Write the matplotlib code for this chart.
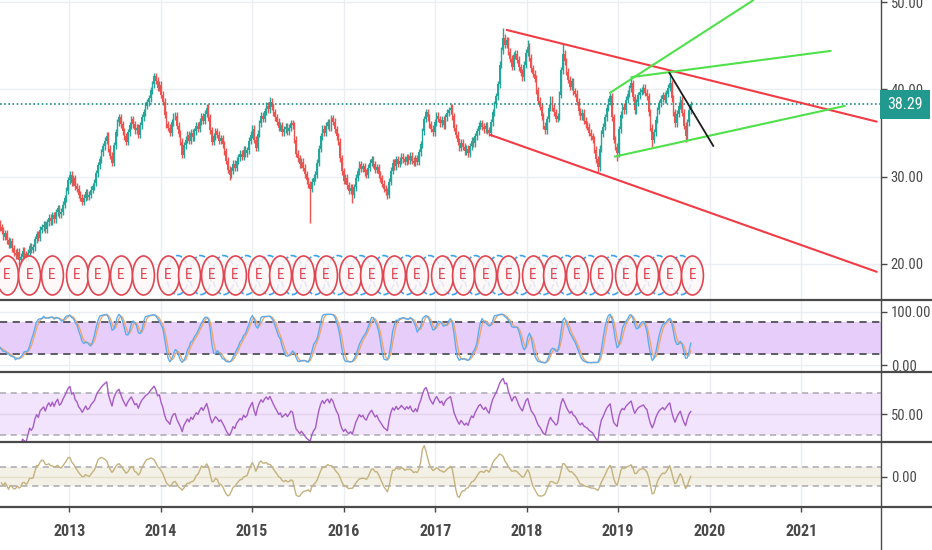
import numpy as np
import pandas as pd
import matplotlib
matplotlib.use('Agg')
import matplotlib.pyplot as plt
import matplotlib.dates as mdates
from matplotlib.path import Path
from matplotlib.lines import Line2D
from matplotlib.ticker import FormatStrFormatter
from matplotlib.transforms import blended_transform_factory

plt.rcParams['font.family'] = ['Roboto Condensed', 'Barlow Condensed', 'DejaVu Sans']

# weekly closes (first bar 2012-03-30)
first_date = '2012-03-30'
first_open = 24.6
closes = [
    24.2, 23.8, 23.1, 23.5, 22.7, 22.2, 22.6, 21.8, 21.3, 21.0,
    21.4, 20.4, 20.8, 21.5, 21.1, 20.7, 21.3, 22.0, 21.6, 21.9,
    22.8, 23.4, 23.0, 23.9, 24.2, 24.5, 24.0, 24.8, 25.3, 24.9,
    25.6, 25.1, 25.9, 26.4, 25.7, 26.0, 26.8, 27.5, 28.4, 29.6,
    30.2, 29.3, 29.8, 28.9, 28.6, 27.9, 27.6, 27.1, 27.6, 28.2,
    27.7, 27.9, 28.5, 28.9, 29.3, 30.4, 31.3, 32.0, 32.8, 33.5,
    34.1, 34.7, 33.2, 32.4, 31.6, 33.6, 35.1, 36.2, 36.8, 36.0,
    35.2, 34.6, 34.0, 35.1, 35.9, 36.6, 36.0, 35.3, 35.6, 34.8,
    35.9, 36.8, 37.4, 38.1, 38.5, 39.0, 39.9, 40.6, 41.5, 41.0,
    40.2, 40.5, 39.4, 38.6, 37.1, 36.0, 35.6, 35.0, 36.2, 36.9,
    37.0, 35.8, 34.9, 34.0, 32.5, 33.6, 34.2, 34.8, 34.1, 35.0,
    34.5, 35.2, 35.8, 35.5, 36.3, 36.9, 36.4, 37.2, 37.9, 36.8,
    35.3, 34.0, 34.6, 35.2, 34.8, 34.1, 34.4, 33.7, 32.9, 31.8,
    30.8, 30.2, 30.7, 31.5, 31.0, 31.8, 32.2, 32.6, 32.3, 33.1,
    32.7, 33.0, 34.1, 34.8, 35.5, 34.2, 33.3, 34.9, 36.1, 37.0,
    36.6, 37.5, 38.1, 37.7, 38.6, 38.0, 37.4, 36.8, 36.3, 35.6,
    35.9, 35.1, 35.4, 35.7, 35.2, 35.6, 36.1, 35.9, 34.2, 32.6,
    32.1, 31.4, 31.7, 31.0, 30.3, 29.6, 29.1, 28.6, 29.4, 29.9,
    30.2, 31.6, 33.2, 34.6, 35.5, 35.0, 35.8, 36.2, 35.6, 36.7,
    36.3, 35.4, 34.6, 34.0, 32.1, 30.6, 29.5, 29.9, 29.0, 28.4,
    28.7, 27.9, 28.8, 29.9, 30.6, 31.4, 30.9, 31.2, 30.5, 30.2,
    31.0, 31.6, 32.0, 31.4, 30.8, 31.1, 30.3, 29.8, 29.2, 28.6,
    28.3, 27.9, 29.4, 30.7, 31.6, 31.2, 32.0, 31.5, 31.8, 32.3,
    32.0, 31.7, 32.2, 31.9, 32.4, 31.8, 31.6, 32.1, 31.7, 32.8,
    33.7, 35.2, 36.6, 37.4, 36.8, 36.0, 35.5, 35.1, 36.2, 37.0,
    36.6, 36.1, 36.5, 35.9, 36.8, 37.3, 37.6, 37.9, 36.9, 35.6,
    34.8, 34.0, 33.3, 33.9, 33.4, 32.9, 33.2, 32.7, 33.5, 34.1,
    33.8, 34.6, 35.2, 35.8, 36.1, 35.7, 35.4, 35.8, 35.3, 35.0,
    36.2, 37.4, 38.3, 39.2, 40.6, 42.8, 44.5, 45.9, 45.1, 45.6,
    44.3, 43.5, 42.6, 43.9, 44.1, 43.4, 42.5, 41.9, 41.4, 42.8,
    44.2, 44.9, 43.6, 42.4, 41.8, 41.2, 39.9, 38.7, 38.0, 36.9,
    35.8, 35.3, 36.6, 37.9, 38.8, 37.9, 37.4, 36.6, 36.9, 39.4,
    42.2, 44.1, 43.2, 42.0, 41.1, 40.3, 40.9, 39.8, 39.5, 38.6,
    37.5, 36.9, 37.3, 36.4, 36.0, 35.7, 35.0, 34.6, 34.2, 33.1,
    32.0, 31.1, 33.2, 34.9, 35.7, 36.8, 37.9, 38.6, 39.2, 36.8,
    34.2, 33.4, 32.7, 35.4, 37.1, 38.0, 37.6, 38.8, 39.5, 40.1,
    40.7, 39.1, 37.6, 38.5, 39.3, 39.7, 39.9, 40.2, 39.6, 39.2,
    37.4, 35.6, 34.2, 35.1, 36.5, 37.6, 38.4, 38.9, 39.3, 38.8,
    39.5, 40.2, 40.7, 39.0, 37.4, 36.1, 37.2, 38.1, 38.8, 37.3,
    35.8, 34.6, 36.2, 37.6, 38.29,
]
wick = 0.4
high_spikes = {88: 41.9, 154: 39.1, 287: 47.0, 301: 45.6, 321: 45.2, 360: 41.5, 382: 42.2}
low_spikes = {11: 19.9, 131: 29.6, 177: 24.7, 201: 27.0, 221: 27.4, 341: 30.5, 352: 31.8, 372: 33.4, 391: 34.0}

earnings_dates = [
    '2012-04-26', '2012-07-26', '2012-10-25',
    '2013-01-31', '2013-04-25', '2013-07-25', '2013-10-24',
    '2014-01-30', '2014-04-24', '2014-07-24', '2014-10-23',
    '2015-01-29', '2015-04-23', '2015-07-23', '2015-10-22',
    '2016-01-28', '2016-04-21', '2016-07-21', '2016-10-20',
    '2017-01-26', '2017-04-20', '2017-07-20', '2017-10-19',
    '2018-01-25', '2018-04-19', '2018-07-19', '2018-10-25',
    '2019-01-31', '2019-04-25', '2019-07-25', '2019-10-24',
]
dividend_dates = [
    '2014-03-10', '2014-06-10', '2014-09-10', '2014-12-10',
    '2015-03-10', '2015-06-10', '2015-09-10', '2015-12-10',
    '2016-03-10', '2016-06-10', '2016-09-10', '2016-12-10',
    '2017-03-10', '2017-06-10', '2017-09-10', '2017-12-10',
    '2018-03-10', '2018-06-10', '2018-09-10', '2018-12-10',
    '2019-03-10', '2019-06-10', '2019-09-10',
]

# drawn trend lines: (start date, price), (end date, price)
red_lines = [(('2017-10-13', 46.8), ('2021-10-29', 36.3)),
             (('2017-08-07', 34.8), ('2021-10-29', 19.1))]
green_lines = [(('2018-11-29', 39.6), ('2020-06-23', 50.2)),
               (('2019-02-24', 41.4), ('2021-04-28', 44.4)),
               (('2018-12-19', 32.3), ('2021-06-24', 38.1))]
black_lines = [(('2019-07-24', 41.9), ('2020-01-16', 33.5))]

years = ['2013', '2014', '2015', '2016', '2017', '2018', '2019', '2020', '2021']

UP = '#26a69a'
DOWN = '#ef5350'
GRID = '#eaedf1'
AXC = '#4a4a4a'

# ---- series ----
c = pd.Series(closes)
o = c.shift(1).fillna(first_open)
h = np.maximum(o, c) + wick
l = np.minimum(o, c) - wick
for i, v in high_spikes.items():
    h[i] = v
for i, v in low_spikes.items():
    l[i] = v
dates = pd.date_range(first_date, periods=len(closes), freq='7D')
x = mdates.date2num(dates)

# stochastic 14,3,3
ll = l.rolling(14, min_periods=1).min()
hh = h.rolling(14, min_periods=1).max()
k = (100 * (c - ll) / (hh - ll)).rolling(3, min_periods=1).mean()
d = k.rolling(3, min_periods=1).mean()
# rsi 14
delta = c.diff()
gain = delta.clip(lower=0).ewm(alpha=1 / 14, adjust=False).mean()
loss = (-delta.clip(upper=0)).ewm(alpha=1 / 14, adjust=False).mean()
rsi = 100 - 100 / (1 + gain / loss)
# cci 20
tp = (h + l + c) / 3
sma = tp.rolling(20, min_periods=1).mean()
mad = tp.rolling(20, min_periods=1).apply(lambda w: np.mean(np.abs(w - w.mean())), raw=True)
cci = (tp - sma) / (0.015 * mad)

# ---- figure ----
W, H = 932, 550
RX = 881
fig = plt.figure(figsize=(W / 100, H / 100), dpi=100)


def panel(top, bottom):
    return fig.add_axes([0, 1 - bottom / H, RX / W, (bottom - top) / H])


ax = panel(0, 300)
ax_st = panel(300, 372)
ax_rsi = panel(372, 442)
ax_cci = panel(442, 507)
axes = [ax, ax_st, ax_rsi, ax_cci]

xmin = mdates.date2num(pd.Timestamp('2012-03-31'))
xmax = mdates.date2num(pd.Timestamp('2021-11-15'))
year_x = mdates.date2num(pd.to_datetime([y + '-01-01' for y in years]))

for a in axes:
    a.set_xlim(xmin, xmax)
    for s in a.spines.values():
        s.set_visible(False)
    a.set_xticks(year_x)
    a.grid(axis='x', color=GRID, lw=1)
    a.set_axisbelow(True)
    a.yaxis.tick_right()
    a.yaxis.set_major_formatter(FormatStrFormatter('%.2f'))
    a.tick_params(axis='y', direction='out', length=4, width=1, colors=AXC,
                  labelsize=10.5, pad=3)
    a.tick_params(axis='x', bottom=False, labelbottom=False)

# main candles
up = c >= o
colors = np.where(up, UP, DOWN)
ax.vlines(x, l, h, colors=colors, lw=1.0, zorder=2)
body_lo = np.minimum(o, c)
body_h = np.maximum(np.abs(c - o), 0.08)
ax.bar(x, body_h, bottom=body_lo, width=6, color=colors, lw=0, zorder=3)
ax.set_ylim(15.87, 50.23)
ax.set_yticks([20, 30, 40, 50])
ax.grid(axis='y', color=GRID, lw=1)
last = closes[-1]
ax.axhline(last, color='#1f8f86', ls=(0, (1, 1.5)), lw=1.2, zorder=4)

for pairs, col, lw in [(red_lines, '#f23b45', 1.5), (green_lines, '#4fe04a', 1.5),
                       (black_lines, '#1c1c1c', 1.3)]:
    for (d1, p1), (d2, p2) in pairs:
        ax.plot(mdates.date2num(pd.to_datetime([d1, d2])), [p1, p2],
                color=col, lw=lw, zorder=5, solid_capstyle='round')

# earnings / dividend markers
circ = Path.unit_circle()
ell = Path(circ.vertices * [0.56, 1.0], circ.codes)
xt = ax.get_xaxis_transform()
MY = 0.083
div_x = mdates.date2num(pd.to_datetime(dividend_dates))
ern_x = mdates.date2num(pd.to_datetime(earnings_dates))
ax.scatter(div_x, [MY] * len(div_x), transform=xt, marker=ell, s=790,
           facecolors='none', edgecolors='#3aa0f0', linewidths=1.2,
           linestyles='--', zorder=6)
ax.scatter(ern_x, [MY] * len(ern_x), transform=xt, marker=ell, s=790,
           facecolors=(1, 0.97, 0.97, 0.85), edgecolors='#e04651',
           linewidths=1.2, zorder=7)
for ex in ern_x:
    ax.text(ex, MY, 'E', transform=xt, ha='center', va='center',
            fontsize=11, color='#e04651', zorder=8)

# stochastic
ax_st.set_ylim(-13.1, 121.9)
ax_st.set_yticks([0, 100])
ax_st.grid(axis='y', color=GRID, lw=1)
ax_st.fill_between([xmin, xmax], 20, 80, color='#e6cdfa', lw=0, zorder=1)
for lvl in (20, 80):
    ax_st.axhline(lvl, color='#505058', ls=(0, (4, 3)), lw=1.3, zorder=2)
ax_st.plot(x, d, color='#f2a66e', lw=1, zorder=3)
ax_st.plot(x, k, color='#5aaef0', lw=1, zorder=4)

# rsi
ax_rsi.set_ylim(23.1, 90.4)
ax_rsi.set_yticks([50])
ax_rsi.fill_between([xmin, xmax], 30, 70, color='#f2e4fc', lw=0, zorder=1)
ax_rsi.axhline(50, color='#e2d2ee', lw=1, zorder=2)
for lvl in (30, 70):
    ax_rsi.axhline(lvl, color='#a8a8b0', ls=(0, (4, 3)), lw=1.1, zorder=2)
ax_rsi.plot(x, rsi, color='#a55cc6', lw=1, zorder=3)

# cci
ax_cci.set_ylim(-326, 373)
ax_cci.set_yticks([0])
ax_cci.fill_between([xmin, xmax], -100, 100, color='#f3f0e6', lw=0, zorder=1)
ax_cci.axhline(0, color='#e6dfca', lw=1, zorder=2)
for lvl in (-100, 100):
    ax_cci.axhline(lvl, color='#a8a8b0', ls=(0, (4, 3)), lw=1.1, zorder=2)
ax_cci.plot(x, cci, color='#c4b27e', lw=1, zorder=3)

# bottom time axis
ax_cci.tick_params(axis='x', bottom=True, labelbottom=True, direction='out',
                   length=3.6, width=1, colors=AXC, labelsize=11.5, pad=9)
ax_cci.xaxis.set_major_formatter(mdates.DateFormatter('%Y'))
for lbl in ax_cci.get_xticklabels():
    lbl.set_fontweight('bold')

# separators and right scale line
for yy in (300, 372, 442, 507):
    fig.add_artist(Line2D([0, 1], [1 - yy / H] * 2, transform=fig.transFigure,
                          color=AXC, lw=1.6))
fig.add_artist(Line2D([RX / W] * 2, [0, 1], transform=fig.transFigure,
                      color=AXC, lw=1))

# last price label
tr = blended_transform_factory(fig.transFigure, ax.transData)
fig.text(887 / W, last, '%.2f' % last, transform=tr, ha='left', va='center',
         fontsize=11.5, color='white', zorder=10,
         bbox=dict(boxstyle='square,pad=0.45', fc='#22998e', ec='none'))

fig.savefig('out.png', dpi=100)
